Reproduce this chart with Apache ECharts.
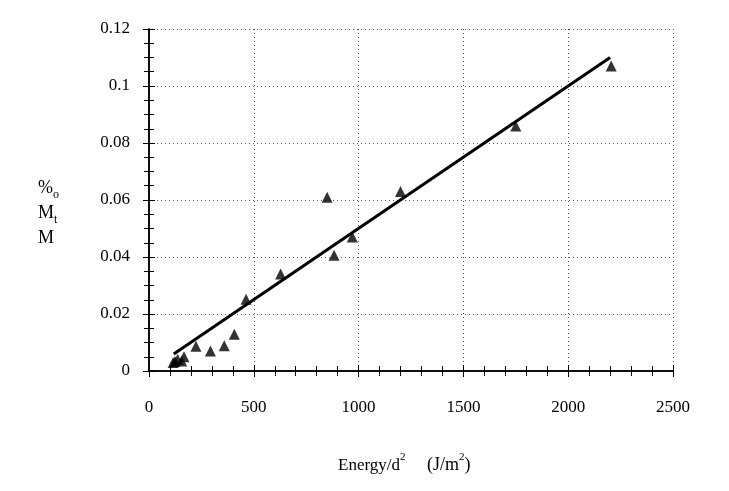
<!DOCTYPE html>
<html>
<head>
<meta charset="utf-8">
<script src="https://cdn.jsdelivr.net/npm/echarts@6/dist/echarts.min.js"></script>
<style>
	html, body { margin: 0; padding: 0; background: #fff; }
	#chart { width: 729px; height: 491px; }
</style>
</head>
<body>
<div id="chart"></div>
<script>
// 实测数据点 (Energy/d², Mt/M %o)
const energy = [2205, 1750, 1200, 850, 970, 883, 628, 463, 407, 359, 293, 224, 167, 137, 124, 156, 115];
const ratio = [0.107, 0.086, 0.063, 0.061, 0.047, 0.0406, 0.034, 0.0252, 0.0129, 0.0089, 0.007, 0.0087, 0.005, 0.0041, 0.0033, 0.0035, 0.003];
// 拟合直线两端
const fitX = [118, 2200];
const fitY = [0.006, 0.110];

const FONT = '"Liberation Serif", "Times New Roman", serif';

const chart = echarts.init(document.getElementById('chart'));

const gridLine = {
	show: true,
	lineStyle: { color: '#555', type: [1, 3], width: 1 }
};
// 刻度朝内（次刻度用负长度翻转方向）
const tick = { show: true, inside: true, length: 6, lineStyle: { color: '#000' } };
const minor = (n) => ({ show: true, splitNumber: n, length: -5, lineStyle: { color: '#000' } });

const option = {
	animation: false,
	grid: { left: 149, top: 29, right: 56, bottom: 120 },
	xAxis: [
		{
			type: 'value',
			min: 0, max: 2500, interval: 500,
			axisLine: { lineStyle: { color: '#000', width: 1.5 } },
			axisTick: tick,
			minorTick: minor(5),
			axisLabel: { color: '#000', fontFamily: FONT, fontSize: 17, margin: 28,
				formatter: v => String(v) },
			splitLine: gridLine
		},
		{
			type: 'value', position: 'top',
			min: 0, max: 2500, interval: 500,
			axisLine: { show: true, lineStyle: { color: '#000', width: 1.5 } },
			axisTick: tick,
			minorTick: minor(5),
			axisLabel: { show: false },
			splitLine: { show: false }
		}
	],
	yAxis: [
		{
			type: 'value',
			min: 0, max: 0.12, interval: 0.02,
			axisLine: { show: true, lineStyle: { color: '#000', width: 1.5 } },
			axisTick: tick,
			minorTick: minor(4),
			axisLabel: { color: '#000', fontFamily: FONT, fontSize: 17, margin: 19,
				formatter: v => String(+v.toFixed(2)) },
			splitLine: gridLine
		},
		{
			type: 'value', position: 'right',
			min: 0, max: 0.12, interval: 0.02,
			axisLine: { show: true, lineStyle: { color: '#000', width: 1.5 } },
			axisTick: tick,
			minorTick: minor(4),
			axisLabel: { show: false },
			splitLine: { show: false }
		}
	],
	series: [
		{
			type: 'scatter',
			symbol: 'triangle',
			symbolSize: 11,
			itemStyle: { color: '#000' },
			data: energy.map((x, i) => [x, ratio[i]])
		},
		{
			type: 'line',
			symbol: 'none',
			lineStyle: { color: '#000', width: 3 },
			data: fitX.map((x, i) => [x, fitY[i]])
		}
	],
	graphic: [
		{
			type: 'text', left: 38, top: 176,
			style: {
				text: '{b|%}{s|o}\n{b|M}{s|t}\n{b|M}',
				fill: '#000',
				lineHeight: 25,
				rich: {
					b: { font: '18px ' + FONT, fill: '#000', lineHeight: 25 },
					s: { font: '12px ' + FONT, fill: '#000', verticalAlign: 'bottom', lineHeight: 25, padding: [8, 0, 0, 0] }
				}
			}
		},
		{
			type: 'text', left: 338, top: 452,
			style: {
				text: '{b|Energy/d}{s|2}',
				fill: '#000',
				rich: {
					b: { font: '17px ' + FONT, fill: '#000', lineHeight: 22, verticalAlign: 'bottom' },
					s: { font: '11px ' + FONT, fill: '#000', lineHeight: 22, verticalAlign: 'top' }
				}
			}
		},
		{
			type: 'text', left: 427, top: 452,
			style: {
				text: '{b|(J/m}{s|2}{b|)}',
				fill: '#000',
				rich: {
					b: { font: '18px ' + FONT, fill: '#000', lineHeight: 22, verticalAlign: 'bottom' },
					s: { font: '11px ' + FONT, fill: '#000', lineHeight: 22, verticalAlign: 'top' }
				}
			}
		}
	]
};

chart.setOption(option);
</script>
</body>
</html>
